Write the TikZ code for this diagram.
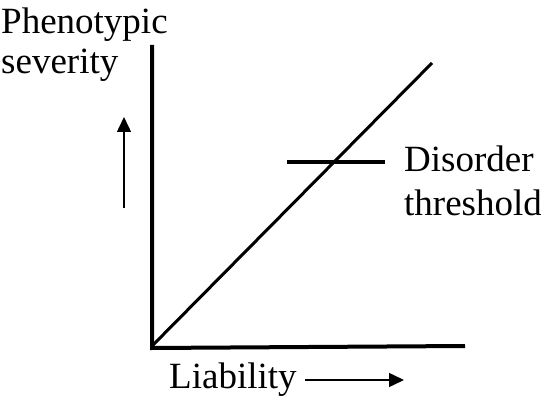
\documentclass[tikz,border=0pt]{standalone}
\usepackage{fontspec}
\setmainfont{Liberation Serif}
\usetikzlibrary{arrows.meta}
\begin{document}
\begin{tikzpicture}[x=1pt,y=-1pt,
  lbl/.style={anchor=base west,inner sep=0pt,font=\fontsize{37}{42}\selectfont},
  axisline/.style={line width=4pt},
  thinarrow/.style={line width=1.5pt,-{Triangle[width=14pt,length=15pt]}}]
\useasboundingbox (0,0) rectangle (541,398);
\coordinate (O) at (152,346);
\coordinate (ytop) at (152,45);
\coordinate (xend) at (465,346);
\coordinate (dend) at (432,63);
\coordinate (thl) at (287,162);
\coordinate (thr) at (385,162);
\coordinate (ua) at (124,208);
\coordinate (ub) at (124,117);
\coordinate (ra) at (305,380);
\coordinate (rb) at (404,380);
\draw[axisline] (ytop) -- (152,348) -- (xend);
\draw[line width=3pt] (O) -- (dend);
\draw[line width=4pt] (thl) -- (thr);
\draw[thinarrow] (ua) -- (ub);
\draw[thinarrow] (ra) -- (rb);
\node[lbl] (p) at (1,34) {Phenotypic};
\node[lbl] (s) at (1,74) {severity};
\node[lbl] (d) at (404,172) {Disorder};
\node[lbl] (t) at (404,216) {threshold};
\node[lbl] (l) at (169,388) {Liability};
\end{tikzpicture}
\end{document}
